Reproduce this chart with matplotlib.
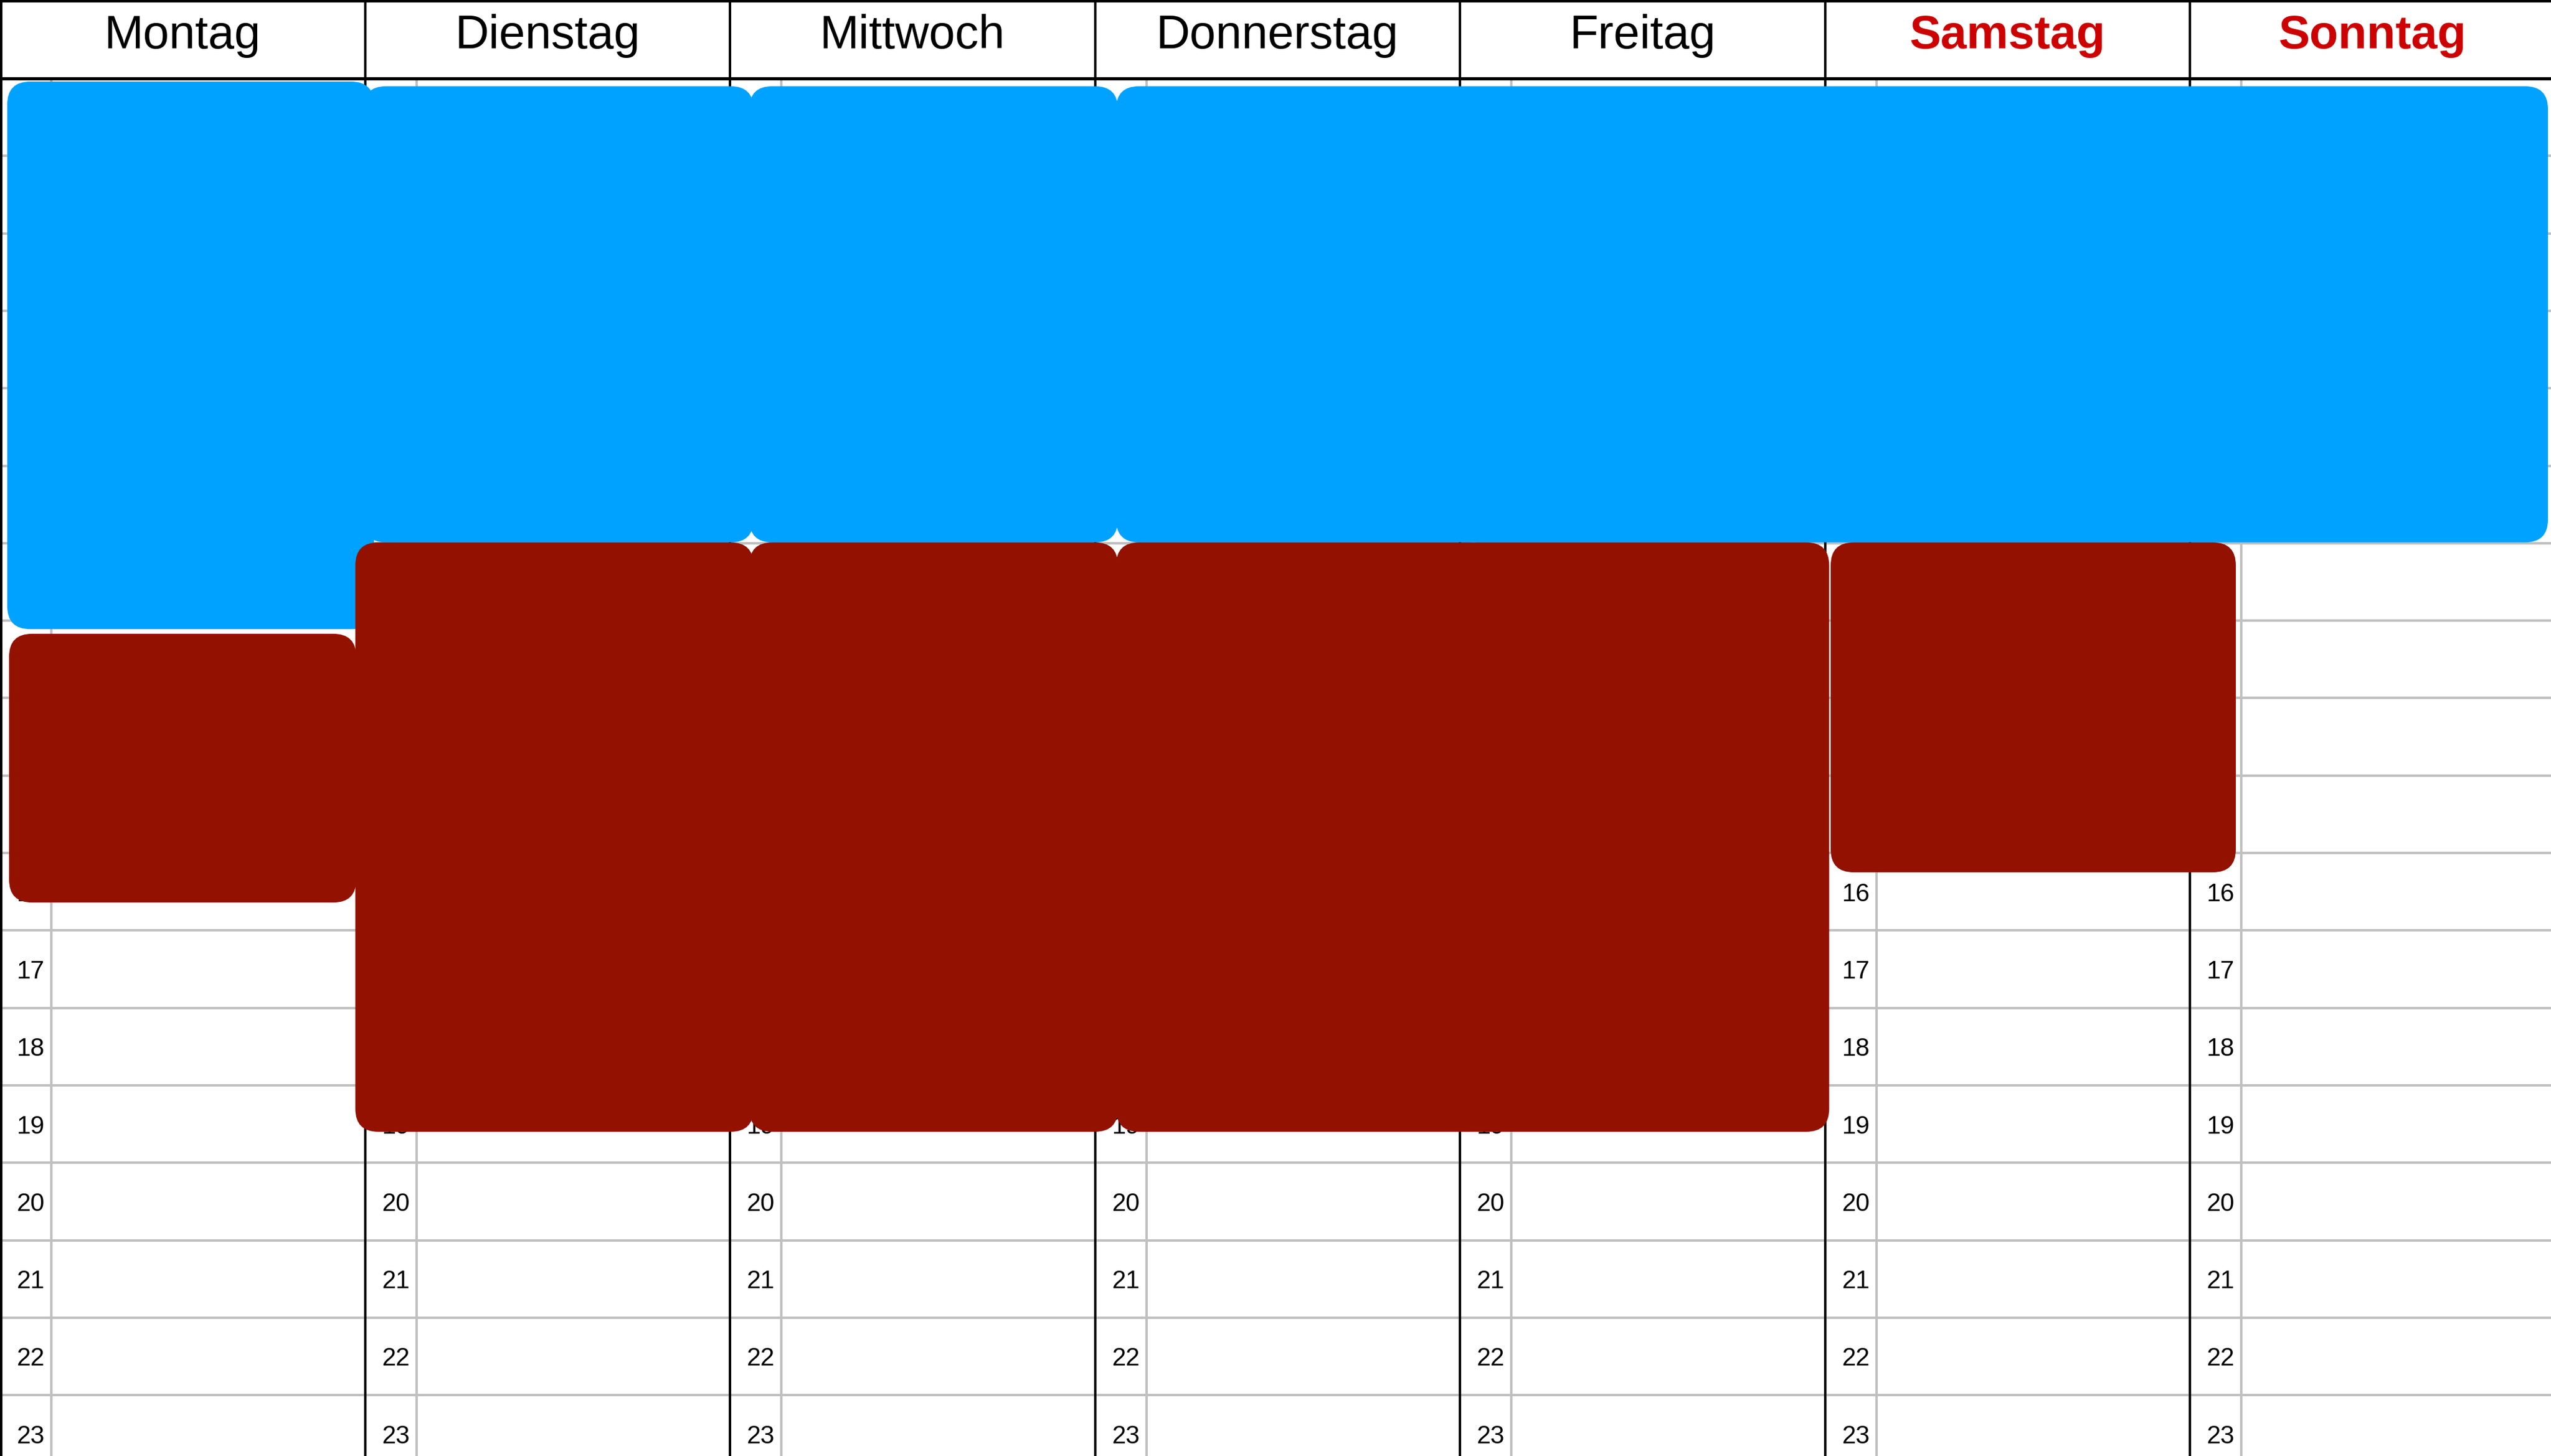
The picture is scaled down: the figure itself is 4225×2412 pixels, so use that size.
import matplotlib
matplotlib.use("Agg")
import matplotlib.pyplot as plt
from matplotlib.patches import FancyBboxPatch, BoxStyle

plt.rcParams['font.family'] = ['Liberation Sans', 'DejaVu Sans']

# --- data ---
day_names = ["Montag", "Dienstag", "Mittwoch", "Donnerstag", "Freitag", "Samstag", "Sonntag"]
weekend = ["Samstag", "Sonntag"]
hours = list(range(6, 24))

# events: first day, last day, start hour, end hour, kind
ev_day_from = [0, 0, 1, 1, 2, 2, 3, 3, 4, 5]
ev_day_to = [0, 0, 1, 1, 2, 2, 6, 3, 4, 5]
ev_start = [6.04, 13.17, 6.10, 11.99, 6.10, 11.99, 6.10, 11.99, 11.99, 11.99]
ev_end = [13.11, 16.64, 11.99, 19.60, 11.99, 19.60, 11.99, 19.60, 19.60, 16.25]
ev_kind = ["blau", "rot", "blau", "rot", "blau", "rot", "blau", "rot", "rot", "rot"]

# --- layout (pixels in the 4225x2412 output) ---
W_PX, H_PX = 4225, 2412
COL_PX = 604.5          # one day column
ROW_PX = 128.3          # one hour row
HEAD_PX = 130           # header height
LABEL_COL_PX = 85       # hour label sub column

# how far each event box sits in from / hangs over its columns (px)
ev_left_px = [12, 15, -3, -16, 32, 32, 35, 35, -10, 9.5]
ev_right_px = [15, -14.5, 39, 39, 38, 38, -11.5, 55, 7, 76]

kind_color = {"blau": "#00a2ff", "rot": "#931100"}
grid_color = "#c0c0c0"
weekend_color = "#cc0000"

fig = plt.figure(figsize=(W_PX / 100, H_PX / 100), dpi=100)
ax = fig.add_axes([0, 0, 1, 1])
ax.set_xlim(0, W_PX / COL_PX)
ax.set_ylim(6 + (H_PX - HEAD_PX) / ROW_PX, 6 - HEAD_PX / ROW_PX)
ax.axis("off")

px_x = 1 / COL_PX
px_y = 1 / ROW_PX
y_top = 6 - HEAD_PX / ROW_PX
y_bottom = 6 + (H_PX - HEAD_PX) / ROW_PX

# hour grid lines
for h in hours + [hours[-1] + 1]:
    ax.plot([0, len(day_names)], [h, h], color=grid_color, lw=2.9, zorder=1,
            solid_capstyle="butt")

for d, name in enumerate(day_names):
    # label sub column line
    xl = d + LABEL_COL_PX * px_x
    ax.plot([xl, xl], [6, y_bottom], color=grid_color, lw=2.9, zorder=1)
    # hour labels
    for h in hours:
        ax.text(d + 28 * px_x, h + 0.5 + 15.5 * px_y, str(h), fontsize=30,
                ha="left", va="baseline", color="black", zorder=2)
    # day header
    if name in weekend:
        ax.text(d + 0.5, y_top + 80 * px_y, name, fontsize=56, fontweight="bold",
                ha="center", va="baseline", color=weekend_color, zorder=2)
    else:
        ax.text(d + 0.5, y_top + 80 * px_y, name, fontsize=56,
                ha="center", va="baseline", color="black", zorder=2)
    # column separator
    xs = d + (2 * px_x if d == 0 else 0)
    ax.plot([xs, xs], [y_top, y_bottom], color="black", lw=2.9, zorder=1.5)

# header lines
ax.plot([0, len(day_names)], [6, 6], color="black", lw=3.8, zorder=1.6)
ax.plot([0, len(day_names)], [y_top + 1.5 * px_y, y_top + 1.5 * px_y],
        color="black", lw=3.0, zorder=1.6)

# events
rx = 38 * px_x
ry = 38 * px_y
for i in range(len(ev_kind)):
    x0 = ev_day_from[i] + ev_left_px[i] * px_x
    x1 = ev_day_to[i] + 1 + ev_right_px[i] * px_x
    box = FancyBboxPatch((x0, ev_start[i]), x1 - x0, ev_end[i] - ev_start[i],
                         boxstyle=BoxStyle("Round", pad=0, rounding_size=rx),
                         mutation_aspect=ry / rx,
                         facecolor=kind_color[ev_kind[i]], edgecolor="none",
                         zorder=3)
    ax.add_patch(box)

fig.savefig("out.png", dpi=100)
